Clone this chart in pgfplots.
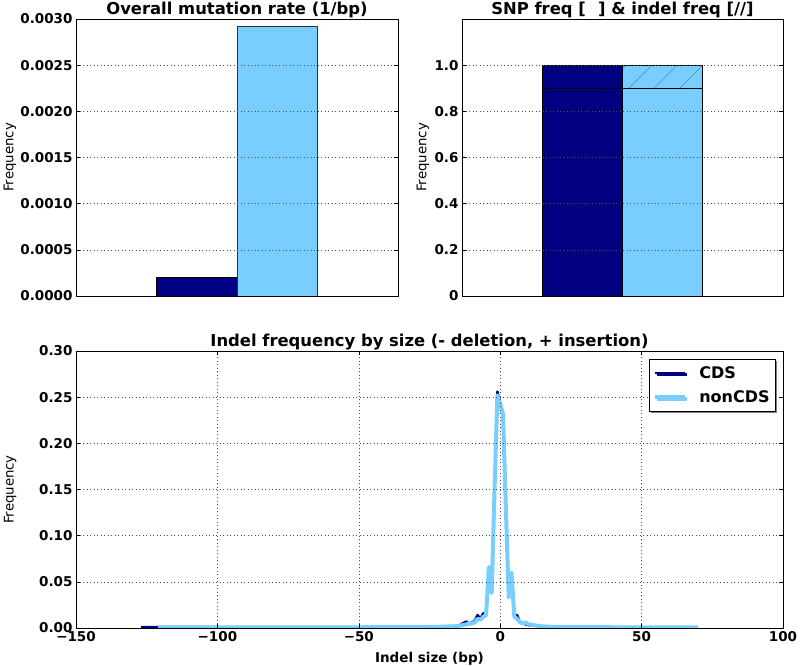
\documentclass[border=0pt]{standalone}
\usepackage{fontspec}
\setmainfont{DejaVu Sans}
\usepackage{pgfplots}
\pgfplotsset{compat=1.18}
\usetikzlibrary{patterns.meta,shadows}

\definecolor{cdsblue}{RGB}{0,0,128}
\definecolor{ncdsblue}{RGB}{120,207,255}
\definecolor{hatchblue}{RGB}{60,120,175}

\newcommand{\tickfont}{\bfseries\fontsize{13.5}{16}\selectfont}
\newcommand{\titlefont}{\bfseries\fontsize{16.4}{19}\selectfont}
\newcommand{\labfont}{\fontsize{13.3}{16}\selectfont}

\pgfplotsset{
  every axis title shift=0pt,
  panel/.style={
    scale only axis,
    axis line style={line width=0.8pt},
    tick align=inside,
    major tick length=4pt,
    tick style={black, line width=0.6pt},
    scaled ticks=false,
    /pgf/number format/assume math mode=true,
    tick label style={font=\tickfont},
    title style={font=\titlefont, at={(0.5,1)}, anchor=base, yshift=4.5pt},
    ylabel style={font=\labfont, anchor=center},
    xlabel style={font=\tickfont, yshift=-4pt},
    major grid style={black!70, line width=0.5pt, dash pattern=on 1pt off 2.5pt},
    axis on top,
  },
  bar/.style={ybar, bar width=1, bar shift=0, line width=0.6pt},
}

\begin{document}
\begin{tikzpicture}
\useasboundingbox (0,0) rectangle (800pt,666pt);

% overall mutation rate
\begin{axis}[panel,
  at={(76pt,370pt)}, anchor=south west, width=322pt, height=277pt,
  xmin=0, xmax=4, ymin=0, ymax=0.003,
  xtick=\empty,
  ytick={0,0.0005,0.001,0.0015,0.002,0.0025,0.003},
  yticklabels={0.0000,0.0005,0.0010,0.0015,0.0020,0.0025,0.0030},
  ymajorgrids,
  title={Overall mutation rate (1/bp)},
  ylabel={Frequency},
  ylabel style={at={(axis description cs:-0.205,0.5)}},
]
\addplot[bar, fill=cdsblue, draw=black] coordinates {(1.5,0.000198)};
\addplot[bar, fill=ncdsblue, draw=black!80] coordinates {(2.5,0.002917)};
\end{axis}

% SNP / indel fractions
\begin{axis}[panel,
  at={(462pt,370pt)}, anchor=south west, width=321pt, height=277pt,
  xmin=0, xmax=4, ymin=0, ymax=1.2,
  xtick=\empty,
  ytick={0,0.2,0.4,0.6,0.8,1.0},
  yticklabels={0,0.2,0.4,0.6,0.8,1.0},
  ymajorgrids,
  title={SNP freq [\hspace{0.75em}] \& indel freq [//]},
  ylabel={Frequency},
  ylabel style={at={(axis description cs:-0.1215,0.5)}},
]
\addplot[bar, fill=cdsblue, draw=black] coordinates {(1.5,1.0)};
\addplot[bar, fill=cdsblue, draw=black] coordinates {(1.5,0.9)};
\addplot[bar, fill=ncdsblue, draw=black,
  postaction={pattern={Lines[angle=45,distance=18pt,line width=0.4pt]}, pattern color=hatchblue}]
  coordinates {(2.5,1.0)};
\addplot[bar, fill=ncdsblue, draw=black] coordinates {(2.5,0.9)};
\end{axis}

% indel size distribution
\begin{axis}[panel,
  at={(76pt,38pt)}, anchor=south west, width=707pt, height=277pt,
  xmin=-150, xmax=100, ymin=0, ymax=0.3,
  xtick={-150,-100,-50,0,50,100},
  xticklabels={−150,−100,−50,0,50,100},
  ytick={0,0.05,0.1,0.15,0.2,0.25,0.3},
  yticklabels={0.00,0.05,0.10,0.15,0.20,0.25,0.30},
  grid=major,
  title={Indel frequency by size (- deletion, + insertion)},
  xlabel={Indel size (bp)},
  ylabel={Frequency},
  ylabel style={at={(axis description cs:-0.093,0.5)}},
  legend style={at={(0.990,0.971)}, anchor=north east,
    font=\bfseries\fontsize{16}{19}\selectfont, draw=black, line width=0.6pt,
    fill=white, inner xsep=4pt, inner ysep=5pt, row sep=7pt,
    drop shadow={shadow xshift=1.5pt, shadow yshift=-1.5pt, fill=black!50, opacity=1}},
  legend cell align=left,
  legend image code/.code={\draw[#1] (0pt,0pt) -- (30pt,0pt); \path (40pt,0pt);},
]
\addplot[cdsblue, line width=2.5pt, line join=round] coordinates {
  (-127,0.001) (-121,0.001) (-100,0.0008) (-50,0.0008) (-20,0.001)
  (-15,0.002) (-12,0.007) (-11,0.004) (-10,0.006) (-9,0.008) (-8,0.014)
  (-7,0.01) (-6,0.016) (-5,0.015) (-4,0.062) (-3,0.04) (-2,0.15)
  (-1,0.256) (1,0.232) (2,0.13) (3,0.035) (4,0.055) (5,0.012) (6,0.014)
  (7,0.006) (8,0.005) (10,0.003) (14,0.002) (20,0.001) (40,0.0008) (60,0.0008)
};
\addplot[ncdsblue, line width=4pt, line join=round] coordinates {
  (-121,0.0008) (-100,0.0008) (-50,0.0008) (-25,0.001) (-20,0.0015)
  (-15,0.002) (-12,0.004) (-11,0.005) (-10,0.005) (-9,0.006) (-8,0.01)
  (-7,0.009) (-6,0.012) (-5,0.014) (-4,0.066) (-3,0.038) (-2,0.15)
  (-1,0.252) (1,0.232) (2,0.13) (3,0.033) (4,0.06) (5,0.012) (6,0.01)
  (7,0.006) (8,0.005) (9,0.006) (10,0.004) (12,0.003) (14,0.002)
  (20,0.001) (40,0.0008) (70,0.0008)
};
\legend{CDS, nonCDS}
\end{axis}
\end{tikzpicture}
\end{document}
